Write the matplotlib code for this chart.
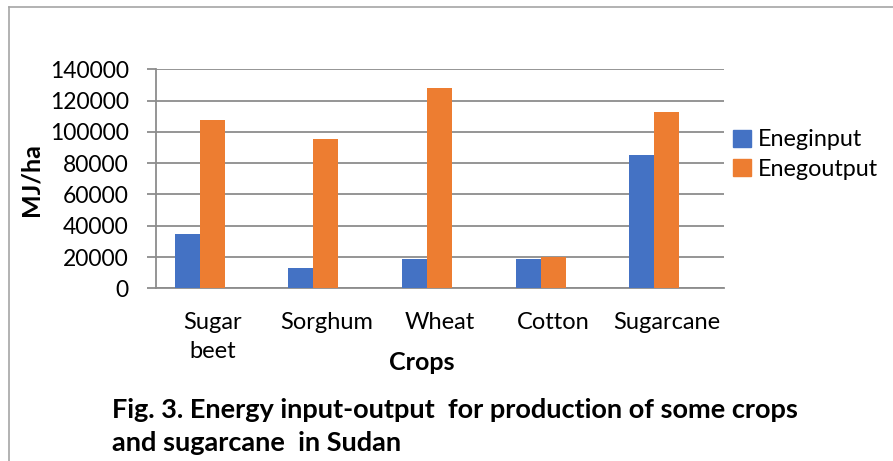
# Energy input-output for crops in Sudan

import matplotlib.pyplot as plt
from matplotlib.lines import Line2D
from matplotlib.patches import Patch
import numpy as np

crops = ['Sugar\nbeet', 'Sorghum', 'Wheat', 'Cotton', 'Sugarcane']
energy_input = [35000, 12800, 18500, 18700, 85400]
energy_output = [107500, 95500, 128000, 20200, 112700]
series_names = ['Eneginput', 'Enegoutput']
yticks = [0, 20000, 40000, 60000, 80000, 100000, 120000, 140000]

blue = '#4472C4'
orange = '#ED7D31'
grid_col = '#8c8c8c'

plt.rcParams['font.family'] = ['Lato', 'DejaVu Sans']

W, H = 893, 461
fig = plt.figure(figsize=(W / 100, H / 100), dpi=100)

# plot area in pixel coords (left, top, right, bottom)
l, t, r, b = 156, 69.3, 724, 288.3
ax = fig.add_axes([l / W, 1 - b / H, (r - l) / W, (b - t) / H])

x = np.arange(len(crops))
bw = 0.22
shift = -0.115
ax.bar(x + shift - bw / 2, energy_input, bw, color=blue, zorder=3)
ax.bar(x + shift + bw / 2, energy_output, bw, color=orange, zorder=3)

ax.set_xlim(-0.5, len(crops) - 0.5)
ax.set_ylim(0, 140000)
ax.set_yticks(yticks)
ax.set_yticklabels([str(v) for v in yticks])
ax.set_xticks(x)
ax.set_xticklabels(crops, linespacing=1.5)

ax.grid(axis='y', color=grid_col, linewidth=1.3, zorder=0)
for s in ['top', 'right']:
    ax.spines[s].set_visible(False)
ax.spines['left'].set_color(grid_col)
ax.spines['bottom'].set_color(grid_col)
ax.spines['left'].set_linewidth(1.3)
ax.spines['bottom'].set_linewidth(1.3)

ax.tick_params(axis='y', length=6.5, width=1.3, color=grid_col, pad=13, labelsize=16.5)
ax.tick_params(axis='x', length=0, pad=17, labelsize=17)

fig.text(31 / W, 1 - 180 / H, 'MJ/ha', rotation=90, ha='center', va='center',
         fontsize=18, fontweight='bold')
fig.text(422 / W, 1 - 362 / H, 'Crops', ha='center', va='center',
         fontsize=18, fontweight='bold')

handles = [Patch(color=blue), Patch(color=orange)]
fig.legend(handles, series_names, loc='upper left', bbox_to_anchor=(724 / W, 1 - 120 / H),
           frameon=False, fontsize=16.8, handlelength=0.75, handleheight=0.75,
           handletextpad=0.3, labelspacing=0.35, borderaxespad=0)

fig.text(112 / W, 1 - 410 / H, 'Fig. 3. Energy input-output  for production of some crops',
         ha='left', va='center', fontsize=19.5, fontweight='bold')
fig.text(112 / W, 1 - 443 / H, 'and sugarcane  in Sudan',
         ha='left', va='center', fontsize=19.5, fontweight='bold')

# frame of the chart box
fig.add_artist(Line2D([8.5 / W, 8.5 / W], [0, 1 - 7.3 / H], transform=fig.transFigure,
                      color='#a6a6a6', linewidth=1.2))
fig.add_artist(Line2D([8.5 / W, 1], [1 - 7.3 / H, 1 - 7.3 / H], transform=fig.transFigure,
                      color='#a6a6a6', linewidth=1.2))

fig.savefig('out.png', dpi=100)
